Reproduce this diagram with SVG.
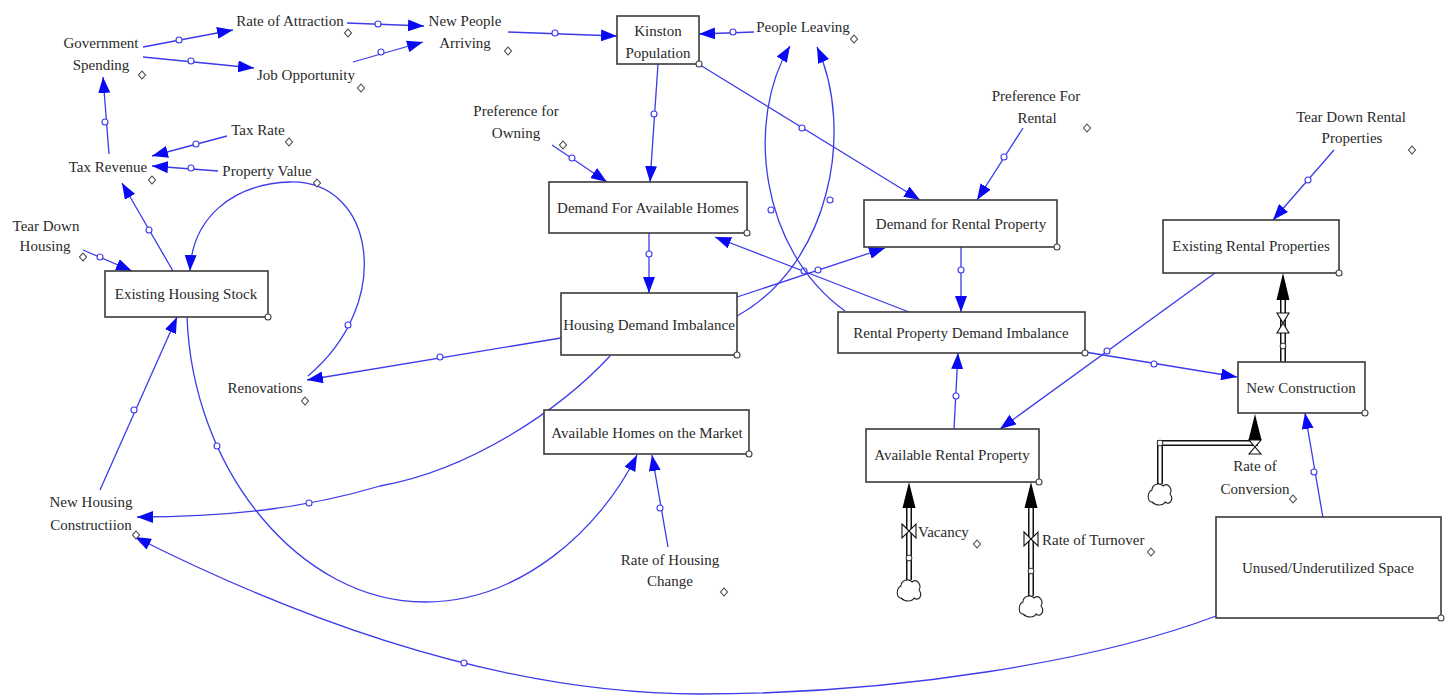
<svg xmlns="http://www.w3.org/2000/svg" width="1450" height="696" viewBox="0 0 1450 696">
<style>
text{font-family:"Liberation Serif","Times New Roman",serif;font-size:15px;fill:#2a2a2a;text-anchor:middle}
.st{text-anchor:start}
.box{fill:#fff;stroke:#3a3a3a;stroke-width:1.6}
.ca{fill:none;stroke:#3b3bea;stroke-width:1.3;marker-end:url(#ah)}
.dot{fill:#fff;stroke:#3b3bea;stroke-width:1.1}
.kn{fill:#fff;stroke:#444;stroke-width:1.1}
.dm{fill:#fff;stroke:#444;stroke-width:1.1}
.po{fill:none;stroke:#111;stroke-width:6;stroke-linejoin:miter}
.pi{fill:none;stroke:#fff;stroke-width:3;stroke-linejoin:miter}
.fa{fill:#000}
.vl{fill:#fff;stroke:#111;stroke-width:1.1}
.cl{fill:#fff;stroke:#222;stroke-width:1.1}
</style>
<defs>
<marker id="ah" markerUnits="userSpaceOnUse" markerWidth="16" markerHeight="12" refX="16" refY="6" orient="auto" viewBox="0 0 16 12">
<path d="M0,0 L16,6 L0,12 Z" fill="#0a0af2"/>
</marker>
<path id="dmd" d="M0,-4 L3.5,0 L0,4 L-3.5,0 Z"/>
<path id="cloud" d="M-8,8 C-13,8 -13,-2 -8,-4 C-8,-10 0,-12 3,-8 C8,-12 13,-5 10,0 C14,5 10,12 5,8 C3,12 -4,12 -8,8 Z"/>
</defs>

<g id="connectors">
<line class="ca" x1="143" y1="47" x2="233" y2="30"/><circle class="dot" cx="179" cy="40" r="3"/>
<line class="ca" x1="143" y1="57" x2="254" y2="68"/><circle class="dot" cx="191" cy="61" r="3"/>
<line class="ca" x1="347" y1="23" x2="424" y2="26"/><circle class="dot" cx="378" cy="24" r="3"/>
<line class="ca" x1="353" y1="62" x2="423" y2="42"/><circle class="dot" cx="381" cy="52" r="3"/>
<line class="ca" x1="508" y1="32" x2="617" y2="36"/><circle class="dot" cx="555" cy="33" r="3"/>
<line class="ca" x1="754" y1="32" x2="699" y2="34"/><circle class="dot" cx="733" cy="32" r="3"/>
<line class="ca" x1="658" y1="64" x2="650" y2="182"/><circle class="dot" cx="654" cy="114" r="3"/>
<line class="ca" x1="700" y1="65" x2="920" y2="200"/><circle class="dot" cx="802" cy="128" r="3"/>
<line class="ca" x1="552" y1="145" x2="607" y2="182"/><circle class="dot" cx="572" cy="158" r="3"/>
<line class="ca" x1="1023" y1="128" x2="977" y2="200"/><circle class="dot" cx="1004" cy="157" r="3"/>
<line class="ca" x1="1334" y1="150" x2="1273" y2="220"/><circle class="dot" cx="1308" cy="180" r="3"/>
<line class="ca" x1="649" y1="233" x2="649" y2="293"/><circle class="dot" cx="649" cy="254" r="3"/>
<line class="ca" x1="961" y1="247" x2="961" y2="312"/><circle class="dot" cx="961" cy="270" r="3"/>
<line class="ca" x1="737" y1="297" x2="885" y2="248"/><circle class="dot" cx="818" cy="270" r="3"/>
<line class="ca" x1="909" y1="312" x2="715" y2="237"/><circle class="dot" cx="804" cy="271" r="3"/>
<line class="ca" x1="954" y1="429" x2="958" y2="353"/><circle class="dot" cx="956" cy="396" r="3"/>
<line class="ca" x1="1215" y1="273" x2="1000" y2="429"/><circle class="dot" cx="1107" cy="351" r="3"/>
<line class="ca" x1="1085" y1="352" x2="1237" y2="377"/><circle class="dot" cx="1154" cy="364" r="3"/>
<line class="ca" x1="1323" y1="518" x2="1305" y2="413"/><circle class="dot" cx="1314" cy="472" r="3"/>
<line class="ca" x1="561" y1="338" x2="307" y2="380"/><circle class="dot" cx="440" cy="357" r="3"/>
<line class="ca" x1="173" y1="271" x2="122" y2="183"/><circle class="dot" cx="149" cy="230" r="3"/>
<line class="ca" x1="109" y1="154" x2="103" y2="77"/><circle class="dot" cx="105" cy="122" r="3"/>
<line class="ca" x1="227" y1="136" x2="152" y2="156"/><circle class="dot" cx="196" cy="144" r="3"/>
<line class="ca" x1="218" y1="171" x2="152" y2="166"/><circle class="dot" cx="191" cy="168" r="3"/>
<line class="ca" x1="83" y1="250" x2="132" y2="271"/><circle class="dot" cx="100" cy="257" r="3"/>
<line class="ca" x1="100" y1="490" x2="177" y2="317"/><circle class="dot" cx="134" cy="410" r="3"/>
<line class="ca" x1="668" y1="547" x2="652" y2="455"/><circle class="dot" cx="660" cy="508" r="3"/>
<path class="ca" d="M845,311 C760,250 745,120 790,46"/><circle class="dot" cx="771" cy="210" r="3"/>
<path class="ca" d="M737,316 C830,265 855,130 817,47"/><circle class="dot" cx="830" cy="200" r="3"/>
<path class="ca" d="M308,376 C395,303 375,180 290,182 C230,184 192,220 190,271"/><circle class="dot" cx="348" cy="325" r="3"/>
<path class="ca" d="M187,316 C192,470 300,602 425,602 C520,602 600,530 637,455"/><circle class="dot" cx="217" cy="446" r="3"/>
<path class="ca" d="M610,356 C560,410 470,470 380,486 C300,510 220,517 137,517"/><circle class="dot" cx="309" cy="503" r="3"/>
<path class="ca" d="M1216,616 C1100,660 900,694 700,694 C500,694 300,620 135,537"/><circle class="dot" cx="464" cy="663" r="3"/>
</g>

<g id="flow-vacancy">
<line class="po" x1="909" y1="580" x2="909" y2="500"/><line class="pi" x1="909" y1="582" x2="909" y2="500"/>
<path class="fa" d="M909,482 L915.5,508 L902.5,508 Z"/>
<path class="vl" d="M902,524 L916,538 L916,524 L902,538 Z"/>
<circle class="kn" cx="909" cy="558" r="2.8"/>
<use href="#cloud" class="cl" x="909" y="590"/>
<text class="st" x="918" y="537">Vacancy</text>
<use href="#dmd" class="dm" x="977" y="544"/>
</g>

<g id="flow-turnover">
<line class="po" x1="1031" y1="596" x2="1031" y2="500"/><line class="pi" x1="1031" y1="598" x2="1031" y2="500"/>
<path class="fa" d="M1031,482 L1037.5,508 L1024.5,508 Z"/>
<path class="vl" d="M1024,532 L1038,546 L1038,532 L1024,546 Z"/>
<circle class="kn" cx="1031" cy="571" r="2.8"/>
<use href="#cloud" class="cl" x="1031" y="606"/>
<text class="st" x="1042" y="545">Rate of Turnover</text>
<use href="#dmd" class="dm" x="1151" y="552"/>
</g>

<g id="flow-conversion">
<polyline class="po" points="1160,484 1160,443 1255,443 1255,432"/><polyline class="pi" points="1160,486 1160,443 1255,443 1255,432"/>
<path class="fa" d="M1255,414 L1261.5,440 L1248.5,440 Z"/>
<path class="vl" d="M1249,440 L1261,440 L1249,454 L1261,454 Z"/>
<circle class="kn" cx="1160" cy="443" r="2.8"/>
<use href="#cloud" class="cl" x="1160" y="494"/>
<text x="1255" y="471">Rate of</text>
<text x="1255" y="494">Conversion</text>
<use href="#dmd" class="dm" x="1293" y="499"/>
</g>

<g id="flow-newrental">
<line class="po" x1="1283" y1="362" x2="1283" y2="292"/><line class="pi" x1="1283" y1="362" x2="1283" y2="292"/>
<path class="fa" d="M1283,273 L1289.5,300 L1276.5,300 Z"/>
<path class="vl" d="M1277,313 L1289,313 L1277,333 L1289,333 Z"/>
<circle class="kn" cx="1283" cy="346" r="2.8"/>
</g>

<g id="kinston-population"><rect class="box" x="617" y="16" width="82" height="48"/><text x="658" y="36">Kinston</text><text x="658" y="58">Population</text><circle class="kn" cx="699" cy="64" r="3"/></g>
<g id="demand-available-homes"><rect class="box" x="549" y="182" width="198" height="51"/><text x="648" y="213">Demand For Available Homes</text><circle class="kn" cx="747" cy="233" r="3"/></g>
<g id="housing-demand-imbalance"><rect class="box" x="561" y="293" width="176" height="62"/><text x="649" y="330">Housing Demand Imbalance</text><circle class="kn" cx="737" cy="355" r="3"/></g>
<g id="available-homes-market"><rect class="box" x="544" y="410" width="205" height="44"/><text x="647" y="438">Available Homes on the Market</text><circle class="kn" cx="749" cy="454" r="3"/></g>
<g id="demand-rental"><rect class="box" x="864" y="200" width="193" height="47"/><text x="961" y="229">Demand for Rental Property</text><circle class="kn" cx="1057" cy="247" r="3"/></g>
<g id="rental-demand-imbalance"><rect class="box" x="838" y="312" width="247" height="41"/><text x="961" y="338">Rental Property Demand Imbalance</text><circle class="kn" cx="1085" cy="353" r="3"/></g>
<g id="available-rental"><rect class="box" x="866" y="429" width="173" height="53"/><text x="952" y="460">Available Rental Property</text><circle class="kn" cx="1039" cy="482" r="3"/></g>
<g id="existing-rental"><rect class="box" x="1163" y="220" width="176" height="53"/><text x="1251" y="251">Existing Rental Properties</text><circle class="kn" cx="1339" cy="273" r="3"/></g>
<g id="new-construction"><rect class="box" x="1238" y="362" width="127" height="51"/><text x="1301" y="393">New Construction</text><circle class="kn" cx="1365" cy="413" r="3"/></g>
<g id="unused-space"><rect class="box" x="1216" y="517" width="225" height="101"/><text x="1328" y="573">Unused/Underutilized Space</text><circle class="kn" cx="1441" cy="618" r="3"/></g>
<g id="existing-housing-stock"><rect class="box" x="105" y="271" width="163" height="46"/><text x="186" y="299">Existing Housing Stock</text><circle class="kn" cx="268" cy="317" r="3"/></g>

<g id="government-spending"><text x="101" y="48">Government</text><text x="101" y="70">Spending</text><use href="#dmd" class="dm" x="142" y="75"/></g>
<g id="rate-of-attraction"><text x="290" y="26">Rate of Attraction</text><use href="#dmd" class="dm" x="348" y="33"/></g>
<g id="job-opportunity"><text x="306" y="80">Job Opportunity</text><use href="#dmd" class="dm" x="361" y="88"/></g>
<g id="new-people-arriving"><text x="465" y="26">New People</text><text x="465" y="48">Arriving</text><use href="#dmd" class="dm" x="508" y="51"/></g>
<g id="people-leaving"><text x="803" y="32">People Leaving</text><use href="#dmd" class="dm" x="854" y="39"/></g>
<g id="preference-owning"><text x="516" y="116">Preference for</text><text x="516" y="138">Owning</text><use href="#dmd" class="dm" x="563" y="145"/></g>
<g id="preference-rental"><text x="1036" y="101">Preference For</text><text x="1037" y="123">Rental</text><use href="#dmd" class="dm" x="1087" y="128"/></g>
<g id="tear-down-rental"><text x="1351" y="122">Tear Down Rental</text><text x="1352" y="143">Properties</text><use href="#dmd" class="dm" x="1412" y="150"/></g>
<g id="tax-rate"><text x="258" y="135">Tax Rate</text><use href="#dmd" class="dm" x="289" y="142"/></g>
<g id="tax-revenue"><text x="108" y="172">Tax Revenue</text><use href="#dmd" class="dm" x="152" y="180"/></g>
<g id="property-value"><text x="267" y="176">Property Value</text><use href="#dmd" class="dm" x="317" y="183"/></g>
<g id="tear-down-housing"><text x="46" y="231">Tear Down</text><text x="45" y="251">Housing</text><use href="#dmd" class="dm" x="83" y="257"/></g>
<g id="renovations"><text x="265" y="393">Renovations</text><use href="#dmd" class="dm" x="305" y="401"/></g>
<g id="new-housing-construction"><text x="91" y="507">New Housing</text><text x="91" y="530">Constructiion</text><use href="#dmd" class="dm" x="136" y="535"/></g>
<g id="rate-housing-change"><text x="670" y="565">Rate of Housing</text><text x="670" y="586">Change</text><use href="#dmd" class="dm" x="724" y="592"/></g>
</svg>
